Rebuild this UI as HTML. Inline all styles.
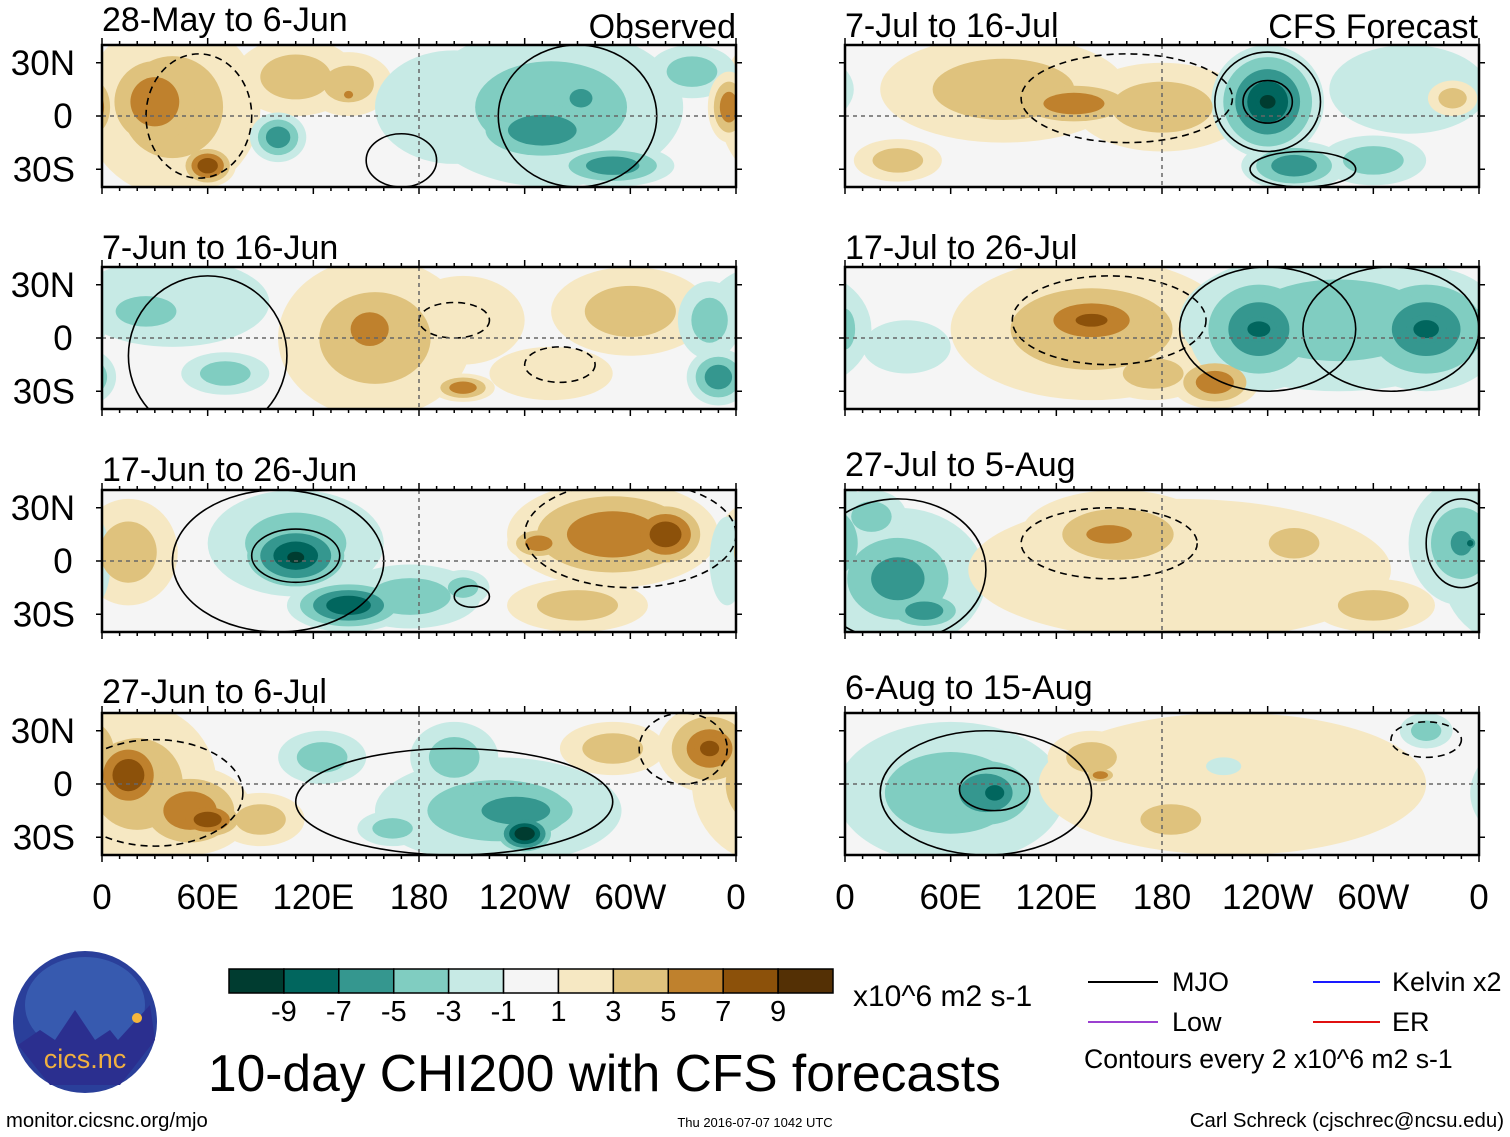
<!DOCTYPE html>
<html><head><meta charset="utf-8"><style>
body{margin:0;background:#fff;}
svg{display:block;font-family:"Liberation Sans",sans-serif;}
</style></head><body>
<svg id="fig" width="1510" height="1137" viewBox="0 0 1510 1137">
<g id="panels"></g>
<g>
<ellipse cx="85" cy="1022" rx="72" ry="71" fill="#2a3f9a"/>
<ellipse cx="85" cy="1005" rx="60" ry="48" fill="#3d66b8" opacity="0.7"/>
<path d="M18,1045 L40,1030 L55,1040 L75,1010 L95,1040 L110,1030 L118,1040 L150,1005 L155,1040 L120,1085 L50,1085 Z" fill="#2b2f8f"/>
<circle cx="137" cy="1018" r="5" fill="#f6b73c"/>
<text x="85" y="1068" font-size="27" fill="#f0b040" text-anchor="middle">cics.nc</text>
</g>
<text x="6" y="1127" font-size="20.3">monitor.cicsnc.org/mjo</text>
<text x="755" y="1127" font-size="13" text-anchor="middle">Thu 2016-07-07 1042 UTC</text>
<text x="1504" y="1127" font-size="20.4" text-anchor="end">Carl Schreck (cjschrec@ncsu.edu)</text>
<text x="208" y="1091" font-size="51.5">10-day CHI200 with CFS forecasts</text>
<g id="cbar"></g>
<text x="853" y="1006" font-size="30">x10^6 m2 s-1</text>
<g>
<line x1="1088" y1="982" x2="1158" y2="982" stroke="#000" stroke-width="2"/><text x="1172" y="991" font-size="27">MJO</text>
<line x1="1313" y1="982" x2="1380" y2="982" stroke="#1a1aff" stroke-width="2"/><text x="1392" y="991" font-size="27">Kelvin x2</text>
<line x1="1088" y1="1022" x2="1158" y2="1022" stroke="#9b40d0" stroke-width="2"/><text x="1172" y="1031" font-size="27">Low</text>
<line x1="1313" y1="1022" x2="1380" y2="1022" stroke="#e01010" stroke-width="2"/><text x="1392" y="1031" font-size="27">ER</text>
<text x="1084" y="1068" font-size="26.6">Contours every 2 x10^6 m2 s-1</text>
</g>
</svg>
<script>
var levels=[-9,-7,-5,-3,-1,1,3,5,7,9];
var colors=["#003c30","#01665e","#35978f","#80cdc1","#c7eae5","#f5f5f5","#f6e8c3","#dfc27d","#bf812d","#8c510a","#543005"];
var titles=["28-May to 6-Jun","7-Jun to 16-Jun","17-Jun to 26-Jun","27-Jun to 6-Jul","7-Jul to 16-Jul","17-Jul to 26-Jul","27-Jul to 5-Aug","6-Aug to 15-Aug"];
var lonTicks=["0","60E","120E","180","120W","60W","0"];
var latTicks=["30N","0","30S"];
// blobs: [lon, lat, rxDeg, ryDeg, peak]
var blobs0=[[40,5,50,50,3],[30,8,32,32,5],[60,-28,16,12,7],[110,22,35,22,3],[140,18,25,18,3],[140,12,6,5,5],[100,-12,16,14,-5],[200,5,45,32,-1],[255,5,75,45,-3],[250,-8,45,20,-5],[290,-28,35,12,-5],[272,10,15,12,-5],[335,25,25,15,-3],[356,5,12,20,5]];
var blobs1=[[40,20,55,25,-1],[25,15,30,15,-3],[70,-20,25,12,-3],[155,0,55,45,3],[152,5,25,22,5],[205,-28,18,8,5],[205,10,35,25,1],[300,15,45,25,3],[300,10,25,10,3],[350,-22,18,16,-5],[345,10,18,22,-3],[255,-20,35,15,1]];
var blobs2=[[15,5,28,30,3],[110,10,50,30,-3],[110,3,35,22,-7],[110,2,15,10,-9],[140,-25,35,15,-7],[175,-20,40,18,-3],[205,-15,15,10,-3],[290,15,60,30,5],[320,15,25,20,7],[248,10,18,10,5],[270,-25,40,15,3],[355,0,10,25,-1]];
var blobs3=[[20,0,45,45,3],[15,5,25,25,7],[50,-15,35,25,5],[60,-20,22,12,7],[125,15,25,15,-3],[200,15,25,20,-3],[225,-15,70,30,-3],[235,-15,45,18,-5],[240,-28,18,12,-9],[165,-25,20,10,-3],[345,20,30,25,5],[345,20,15,12,7],[290,20,30,15,3],[90,-20,25,15,3]];
var blobs4=[[90,15,70,30,3],[130,7,40,14,5],[180,5,50,25,3],[240,8,32,32,-7],[240,8,14,12,-9],[255,-28,30,14,-5],[300,-25,30,14,-3],[320,15,45,25,-1],[345,10,14,10,3],[30,-25,25,12,3]];
var blobs5=[[140,5,80,40,3],[140,10,50,22,5],[140,10,25,10,7],[210,-25,25,15,5],[175,-20,30,15,3],[235,5,40,35,-5],[235,5,18,12,-7],[330,5,45,35,-5],[330,5,20,14,-7],[280,10,90,40,-3],[35,-5,25,15,-1],[0,5,10,20,-3]];
var blobs6=[[30,-10,50,40,-3],[30,-10,35,28,-5],[45,-28,25,12,-5],[15,25,20,15,-3],[155,15,55,25,3],[150,15,30,12,5],[190,-5,120,40,1],[255,10,25,15,3],[300,-25,35,15,3],[350,10,30,35,-3],[350,10,14,16,-5],[355,10,5,5,-7]];
var blobs7=[[60,-5,65,40,-3],[80,-5,35,25,-5],[85,-5,15,12,-7],[140,15,25,15,3],[145,5,10,5,5],[220,0,110,40,1],[185,-20,30,15,3],[330,30,15,10,-3],[215,10,10,5,-1]];
var allBlobs=[blobs0,blobs1,blobs2,blobs3,blobs4,blobs5,blobs6,blobs7];
// contours: [lon, lat, rxDeg, ryDeg, dashed]
var cont0=[[270,0,45,40,0],[170,-25,20,15,0],[55,0,30,35,1]];
var cont1=[[60,-10,45,45,0],[200,10,20,10,1],[260,-15,20,10,1]];
var cont2=[[100,0,60,40,0],[110,3,25,15,0],[300,15,60,30,1],[210,-20,10,6,0]];
var cont3=[[200,-10,90,30,0],[30,-5,50,30,1],[330,20,25,20,1]];
var cont4=[[240,8,30,28,0],[240,8,14,12,0],[260,-30,30,10,0],[160,10,60,25,1]];
var cont5=[[240,5,50,35,0],[310,5,50,35,0],[150,10,55,25,1]];
var cont6=[[30,-5,50,40,0],[150,10,50,20,1],[350,10,20,25,0]];
var cont7=[[80,-5,60,35,0],[85,-3,20,12,0],[330,25,20,10,1]];
var allCont=[cont0,cont1,cont2,cont3,cont4,cont5,cont6,cont7];
var NS="http://www.w3.org/2000/svg";
function mk(t,a,p){var e=document.createElementNS(NS,t);for(var k in a)e.setAttribute(k,a[k]);p.appendChild(e);return e;}
var colX=[102,845],rowY=[45,267,490,713],W=634,H=142;
var titleY=[[20,248,470,692],[26,248,465,688]];
var P=document.getElementById('panels');
var defs=mk('defs',{},P);
for(var i=0;i<8;i++){
  var c=i<4?0:1,r=i%4,x0=colX[c],y0=rowY[r];
  var xs=function(lon){return x0+lon/360*W;};
  var ys=function(lat){return y0+(40-lat)/80*H;};
  var cp=mk('clipPath',{id:'cp'+i},defs);mk('rect',{x:x0,y:y0,width:W,height:H},cp);
  var g=mk('g',{'clip-path':'url(#cp'+i+')'},P);
  
  
  mk('rect',{x:x0,y:y0,width:W,height:H,fill:'#f5f5f5'},g);
  var b=allBlobs[i];
  for(var m=1;m<=9;m+=2){
    for(var j=0;j<b.length;j++){
      var v=b[j][4],a=Math.abs(v);if(a<m)continue;
      var s=1-(m-1)/(a+1)*0.85;
      var ci=v>0?5+(m+1)/2:5-(m+1)/2;
      for(var dx=-360;dx<=360;dx+=360){
        var e=mk('ellipse',{cx:xs(b[j][0]+dx),cy:ys(b[j][1]),rx:b[j][2]*s*W/360,ry:b[j][3]*s*H/80,fill:colors[ci]},g);
        
        
      }
    }
  }
  var cs=allCont[i];
  for(var j=0;j<cs.length;j++){
    var ce=mk('ellipse',{cx:xs(cs[j][0]),cy:ys(cs[j][1]),rx:cs[j][2]*W/360,ry:cs[j][3]*H/80,fill:'none',stroke:'#000','stroke-width':1.6,'stroke-dasharray':cs[j][4]?'7,5':'none'},g);
    
    
  }
  mk('line',{x1:x0,y1:ys(0),x2:x0+W,y2:ys(0),stroke:'#666','stroke-dasharray':'4,4','stroke-width':1.5},g);
  mk('line',{x1:xs(180),y1:y0,x2:xs(180),y2:y0+H,stroke:'#666','stroke-dasharray':'4,4','stroke-width':1.5},g);
  mk('rect',{x:x0,y:y0,width:W,height:H,fill:'none',stroke:'#000','stroke-width':2.5},P);
  for(var t=0;t<=36;t++){var tx=xs(t*10),len=t%6==0?7:4;
    mk('line',{x1:tx,y1:y0,x2:tx,y2:y0-len,stroke:'#000','stroke-width':1.5},P);
    mk('line',{x1:tx,y1:y0+H,x2:tx,y2:y0+H+len,stroke:'#000','stroke-width':1.5},P);}
  for(var la=-30;la<=30;la+=30){mk('line',{x1:x0-6,y1:ys(la),x2:x0,y2:ys(la),stroke:'#000','stroke-width':1.5},P);mk('line',{x1:x0+W,y1:ys(la),x2:x0+W+6,y2:ys(la),stroke:'#000','stroke-width':1.5},P);}
  var tt=mk('text',{x:x0,y:titleY[c][r]+11,'font-size':34},P);tt.textContent=titles[i];
  
  
  if(c==0){for(var k=0;k<3;k++){var lt=mk('text',{x:75,y:ys(30-30*k)+12,'font-size':35,'text-anchor':k==1?'middle':'end'},P);
    if(k==1)lt.setAttribute('x',63);
    lt.textContent=latTicks[k];
    
    }}
  if(r==3){for(var k=0;k<7;k++){var lx=mk('text',{x:xs(k*60),y:909,'font-size':35,'text-anchor':'middle'},P);lx.textContent=lonTicks[k];
    
    }}
}
var o=mk('text',{x:736,y:38,'font-size':34,'text-anchor':'end'},P);o.textContent='Observed';


var f=mk('text',{x:1478,y:38,'font-size':34,'text-anchor':'end'},P);f.textContent='CFS Forecast';


var CB=document.getElementById('cbar');
var bw=604/11;
for(var k=0;k<11;k++){var rc=mk('rect',{x:229+k*bw,y:969,width:bw,height:24,fill:colors[k],stroke:'#000','stroke-width':1.5},CB);
  
  }
for(var k=0;k<10;k++){var ct=mk('text',{x:229+(k+1)*bw,y:1021,'font-size':29,'text-anchor':'middle'},CB);ct.textContent=levels[k];
  
  }
</script>
</body></html>
